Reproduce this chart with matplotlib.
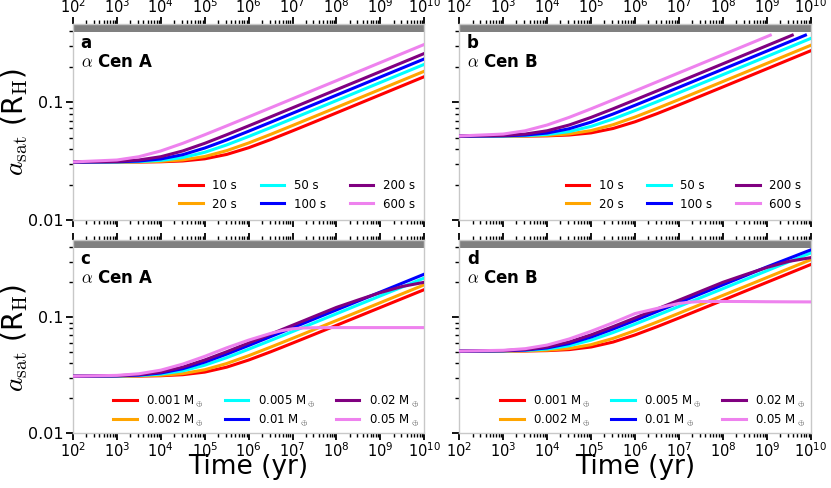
import numpy as np
import matplotlib
matplotlib.use("Agg")
import matplotlib.pyplot as plt
from matplotlib.ticker import LogLocator, NullFormatter, LogFormatterSciNotation

plt.rcParams['font.family'] = ['DejaVu Sans']
plt.rcParams['mathtext.fontset'] = 'cm'

# ---------------- data ----------------
colors = ['red', 'orange', 'cyan', 'blue', 'purple', 'violet']
dt_labels = ['10 s', '20 s', '50 s', '100 s', '200 s', '600 s']
mass_labels = [r'0.001 M$_\oplus$', r'0.002 M$_\oplus$', r'0.005 M$_\oplus$',
               r'0.01 M$_\oplus$', r'0.02 M$_\oplus$', r'0.05 M$_\oplus$']

# log10(time / yr) sample points
logt_ab = [2, 3, 3.5, 4, 4.5, 5, 5.5, 6, 6.5, 7, 7.5, 8, 9, 10]
logt_cd = [2, 3, 3.5, 4, 4.5, 5, 5.5, 6, 6.5, 6.75, 7, 7.25, 7.5, 8, 8.5, 9, 9.5, 10]
x_major_exp = [2, 3, 4, 5, 6, 7, 8, 9, 10]

# panel a : alpha Cen A, different time lags
a_red    = [0.0310, 0.03102, 0.03108, 0.03124, 0.03174, 0.03309, 0.03606, 0.04110, 0.04819, 0.05718, 0.06811, 0.08128, 0.1158, 0.1650]
a_orange = [0.03101, 0.03105, 0.03116, 0.03148, 0.03240, 0.03462, 0.03882, 0.04511, 0.05337, 0.06350, 0.07573, 0.09037, 0.1288, 0.1835]
a_cyan   = [0.03101, 0.03112, 0.03137, 0.03209, 0.03392, 0.03761, 0.04342, 0.05122, 0.06088, 0.07259, 0.08662, 0.1034, 0.1473, 0.2100]
a_blue   = [0.03102, 0.03123, 0.03171, 0.03300, 0.03589, 0.04086, 0.04786, 0.05679, 0.06763, 0.08071, 0.09632, 0.1150, 0.1639, 0.2335]
a_purple = [0.03105, 0.03146, 0.03234, 0.03449, 0.03861, 0.04482, 0.05300, 0.06305, 0.07519, 0.08973, 0.1071, 0.1279, 0.1822, 0.2597]
a_pink   = [0.03115, 0.03234, 0.03449, 0.03861, 0.04482, 0.05300, 0.06305, 0.07519, 0.08973, 0.1071, 0.1279, 0.1526, 0.2175, 0.3100]

# panel b : alpha Cen B, different time lags (curves stop near 0.37 R_H)
b_end_logt = [10, 10, 10, 9.88, 9.58, 9.08]
b_red    = [0.0515, 0.05153, 0.05163, 0.0519, 0.05273, 0.05497, 0.0599, 0.06828, 0.08006, 0.09499, 0.1132, 0.1350, 0.1924, 0.2741]
b_orange = [0.05151, 0.05158, 0.05177, 0.0523, 0.05383, 0.05751, 0.06449, 0.07494, 0.08866, 0.1055, 0.1258, 0.1501, 0.2139, 0.3049]
b_cyan   = [0.05152, 0.0517, 0.05211, 0.05331, 0.05635, 0.06248, 0.07213, 0.08509, 0.1011, 0.1206, 0.1439, 0.1717, 0.2448, 0.3488]
b_blue   = [0.05153, 0.05188, 0.05268, 0.05482, 0.05962, 0.06788, 0.07951, 0.09434, 0.1124, 0.1341, 0.1600, 0.1910, 0.2722, 0.372]
b_purple = [0.05158, 0.05226, 0.05373, 0.0573, 0.06414, 0.07446, 0.08805, 0.1048, 0.1249, 0.1491, 0.1779, 0.2124, 0.3027, 0.372]
b_pink   = [0.05175, 0.05373, 0.0573, 0.06414, 0.07446, 0.08805, 0.1048, 0.1249, 0.1491, 0.1779, 0.2124, 0.2536, 0.3614, 0.372]

# panel c : alpha Cen A, different satellite masses
c_red    = [0.0310, 0.03103, 0.03111, 0.03133, 0.03197, 0.03366, 0.03713, 0.04276, 0.05033, 0.05486, 0.05983, 0.06530, 0.07131, 0.08511, 0.1016, 0.1213, 0.1448, 0.1728]
c_orange = [0.03101, 0.03106, 0.0312, 0.0316, 0.03268, 0.03527, 0.03991, 0.04662, 0.05524, 0.06025, 0.06576, 0.07182, 0.07847, 0.09364, 0.1117, 0.1334, 0.1593, 0.1901]
c_cyan   = [0.03102, 0.03115, 0.03146, 0.03234, 0.03449, 0.03861, 0.04482, 0.0530, 0.06305, 0.06884, 0.07519, 0.08213, 0.08973, 0.1071, 0.1279, 0.1526, 0.1822, 0.2175]
c_blue   = [0.03103, 0.03124, 0.03173, 0.03305, 0.03601, 0.04103, 0.04811, 0.05708, 0.0680, 0.07426, 0.08112, 0.08862, 0.09684, 0.1156, 0.1380, 0.1647, 0.1966, 0.2348]
c_purple = [0.03103, 0.03133, 0.03198, 0.03368, 0.03718, 0.04282, 0.05042, 0.05993, 0.07144, 0.07803, 0.08526, 0.09311, 0.1018, 0.1215, 0.1410, 0.1630, 0.1840, 0.2000]
c_pink   = [0.03106, 0.03155, 0.03257, 0.0350, 0.03947, 0.0460, 0.05449, 0.0635, 0.0725, 0.0765, 0.0795, 0.0808, 0.0812, 0.0814, 0.0814, 0.0814, 0.0814, 0.0814]

# panel d : alpha Cen B, different satellite masses
d_red    = [0.0510, 0.05105, 0.05118, 0.05154, 0.0526, 0.05538, 0.06109, 0.07035, 0.0828, 0.09025, 0.09843, 0.1074, 0.1173, 0.1400, 0.1672, 0.1996, 0.2382, 0.2843]
d_orange = [0.05102, 0.0511, 0.05133, 0.05199, 0.05376, 0.05803, 0.06566, 0.0767, 0.09088, 0.09912, 0.1082, 0.1182, 0.1291, 0.1541, 0.1838, 0.2195, 0.2621, 0.3128]
d_cyan   = [0.05103, 0.05125, 0.05176, 0.05321, 0.05674, 0.06352, 0.07374, 0.0872, 0.1037, 0.1133, 0.1237, 0.1351, 0.1476, 0.1762, 0.2104, 0.2511, 0.2998, 0.3578]
d_blue   = [0.05105, 0.0514, 0.0522, 0.05437, 0.05924, 0.0675, 0.07915, 0.09391, 0.1119, 0.1222, 0.1335, 0.1458, 0.1593, 0.1902, 0.2270, 0.2710, 0.3210, 0.3800]
d_purple = [0.05105, 0.05154, 0.05261, 0.05541, 0.06117, 0.07045, 0.08295, 0.0986, 0.1175, 0.1284, 0.1403, 0.1532, 0.1675, 0.1999, 0.2320, 0.2682, 0.3027, 0.3260]
d_pink   = [0.0511, 0.0519, 0.05358, 0.05758, 0.06494, 0.07568, 0.08965, 0.1075, 0.1190, 0.1255, 0.1315, 0.1348, 0.1365, 0.1368, 0.1365, 0.1360, 0.1357, 0.1355]

panels = [
    dict(letter='a', star='A', labels=dt_labels, mass=False,
         series=[a_red, a_orange, a_cyan, a_blue, a_purple, a_pink],
         logt=[logt_ab] * 6),
    dict(letter='b', star='B', labels=dt_labels, mass=False,
         series=[b_red, b_orange, b_cyan, b_blue, b_purple, b_pink],
         logt=[logt_ab[:-1] + [e] for e in b_end_logt]),
    dict(letter='c', star='A', labels=mass_labels, mass=True,
         series=[c_red, c_orange, c_cyan, c_blue, c_purple, c_pink],
         logt=[logt_cd] * 6),
    dict(letter='d', star='B', labels=mass_labels, mass=True,
         series=[d_red, d_orange, d_cyan, d_blue, d_purple, d_pink],
         logt=[logt_cd] * 6),
]

# ---------------- figure ----------------
W, H = 831, 488
fig = plt.figure(figsize=(W / 100, H / 100), dpi=100)

def rect(x0, y0, x1, y1):
    return [x0 / W, 1 - y1 / H, (x1 - x0) / W, (y1 - y0) / H]

rects = [rect(73, 24, 424.2, 220), rect(459.3, 24, 810.7, 220),
         rect(73, 240, 424.2, 433.3), rect(459.3, 240, 810.7, 433.3)]

spine_col = '#c8c8c8'
for i, (p, r) in enumerate(zip(panels, rects)):
    ax = fig.add_axes(r)
    ax.set_xscale('log')
    ax.set_yscale('log')
    ax.axhspan(0.392, 1.0, color='#808080', lw=0, zorder=1)
    for lt, vals, col, lab in zip(p['logt'], p['series'], colors, p['labels']):
        ax.plot(np.power(10.0, lt), vals, color=col, lw=2.2, label=lab, zorder=3)
    ax.set_xlim(1e2, 1e10)
    ax.set_ylim(0.01, 0.4627)

    ax.set_xticks(np.power(10.0, x_major_exp))
    ax.xaxis.set_major_formatter(LogFormatterSciNotation())
    ax.xaxis.set_minor_locator(LogLocator(base=10, subs=np.arange(2, 10), numticks=20))
    ax.xaxis.set_minor_formatter(NullFormatter())
    ax.set_yticks([0.01, 0.1])
    ax.yaxis.set_minor_locator(LogLocator(base=10, subs=np.arange(2, 10), numticks=20))
    ax.yaxis.set_minor_formatter(NullFormatter())
    if i % 2 == 0:
        ax.set_yticklabels(['0.01', '0.1'])
    else:
        ax.set_yticklabels(['', ''])

    top_row = i < 2
    ax.tick_params(axis='x', which='both', direction='out', top=True, bottom=True,
                   labeltop=top_row, labelbottom=not top_row, labelsize=10.5,
                   pad=1.0)
    ax.tick_params(axis='y', which='both', direction='out', left=True, right=False,
                   labelsize=11.5, pad=2)
    ax.tick_params(which='major', length=5, width=1.3)
    ax.tick_params(which='minor', length=3, width=1.0)
    for s in ax.spines.values():
        s.set_color(spine_col)
        s.set_linewidth(1.0)

    ax.text(0.022, 0.903, p['letter'], transform=ax.transAxes, fontsize=12,
            fontweight='bold', va='center', ha='left')
    ax.text(0.022, 0.806, r'$\alpha$ Cen ' + p['star'], transform=ax.transAxes,
            fontsize=12, fontweight='bold', va='center', ha='left')

    if p['mass']:
        ax.legend(loc='lower right', ncol=3, frameon=False, fontsize=8.5,
                  handlelength=2.0, columnspacing=1.75, handletextpad=0.8,
                  labelspacing=0.3, borderaxespad=0.05)
    else:
        ax.legend(loc='lower right', ncol=3, frameon=False, fontsize=8.5,
                  handlelength=2.0, columnspacing=2.0, handletextpad=0.8,
                  labelspacing=0.45, borderaxespad=0.4)

# axis labels
for yc in (122, 338):
    fig.text(15 / W, 1 - yc / H, r'$a_{\rm sat}$ (R$_{\rm H}$)', rotation=90,
             ha='center', va='center', fontsize=20)
for xc in (248.6, 635.0):
    fig.text(xc / W, 1 - 474.5 / H, 'Time (yr)', ha='center', va='baseline', fontsize=19)

fig.savefig('out.png', dpi=100)
